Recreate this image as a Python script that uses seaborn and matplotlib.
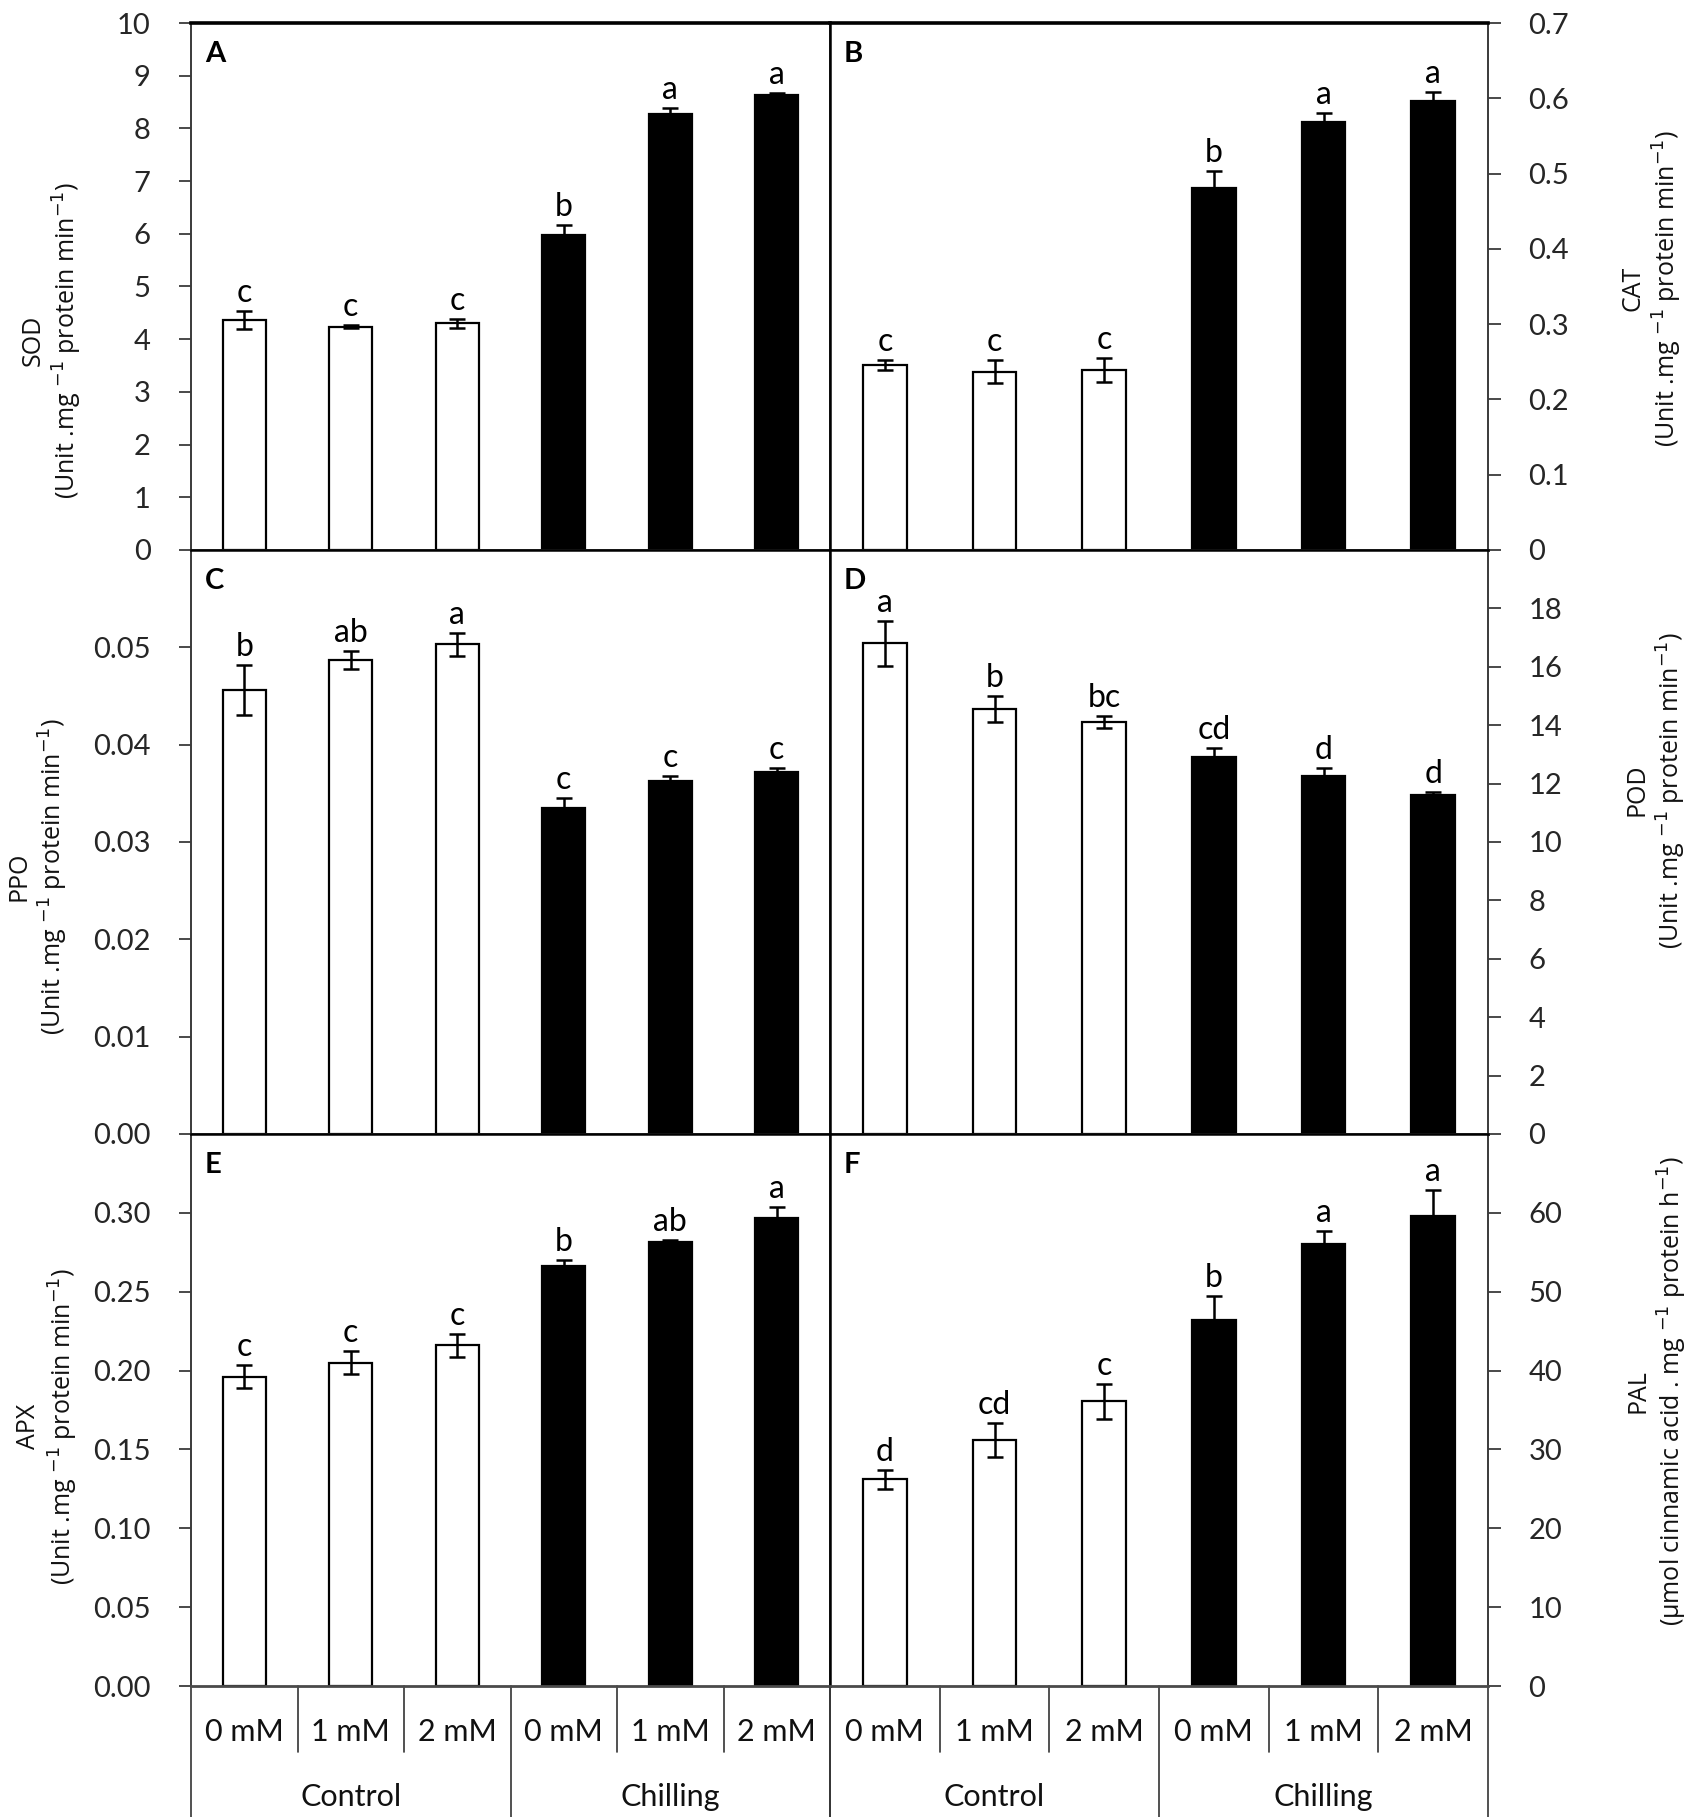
import numpy as np
import pandas as pd
import matplotlib
matplotlib.use("Agg")
import matplotlib.pyplot as plt
import seaborn as sns
from matplotlib import font_manager

# ---------------- data ----------------
groups = ["Control", "Control", "Control", "Chilling", "Chilling", "Chilling"]
doses = ["0 mM", "1 mM", "2 mM", "0 mM", "1 mM", "2 mM"]
group_names = ["Control", "Chilling"]

sod = [4.37, 4.24, 4.30, 5.98, 8.28, 8.63]
sod_err = [0.17, 0.03, 0.08, 0.18, 0.10, 0.05]
sod_let = ["c", "c", "c", "b", "a", "a"]

cat = [0.246, 0.237, 0.239, 0.481, 0.568, 0.596]
cat_err = [0.007, 0.015, 0.016, 0.022, 0.012, 0.012]
cat_let = ["c", "c", "c", "b", "a", "a"]

ppo = [0.0456, 0.0487, 0.0503, 0.0335, 0.0363, 0.0372]
ppo_err = [0.0026, 0.0009, 0.0012, 0.0010, 0.0005, 0.0004]
ppo_let = ["b", "ab", "a", "c", "c", "c"]

pod = [16.8, 14.55, 14.1, 12.9, 12.25, 11.6]
pod_err = [0.77, 0.45, 0.20, 0.33, 0.27, 0.10]
pod_let = ["a", "b", "bc", "cd", "d", "d"]

apx = [0.196, 0.205, 0.216, 0.266, 0.2815, 0.297]
apx_err = [0.0073, 0.0073, 0.0073, 0.004, 0.0012, 0.007]
apx_let = ["c", "c", "c", "b", "ab", "a"]

pal = [26.2, 31.2, 36.1, 46.4, 56.0, 59.6]
pal_err = [1.2, 2.2, 2.2, 3.0, 1.75, 3.3]
pal_let = ["d", "cd", "c", "b", "a", "a"]

sod_ticks = [0, 1, 2, 3, 4, 5, 6, 7, 8, 9, 10]
cat_ticks = [0, 0.1, 0.2, 0.3, 0.4, 0.5, 0.6, 0.7]
ppo_ticks = [0, 0.01, 0.02, 0.03, 0.04, 0.05]
pod_ticks = [0, 2, 4, 6, 8, 10, 12, 14, 16, 18]
apx_ticks = [0, 0.05, 0.10, 0.15, 0.20, 0.25, 0.30]
pal_ticks = [0, 10, 20, 30, 40, 50, 60]

unit_lab = r"(Unit .mg $^{-1}$ protein min$^{-1}$)"
pal_lab = r"(µmol cinnamic acid . mg $^{-1}$ protein h$^{-1}$)"

# ---------------- style ----------------
sns.set_style("white")
names = {f.name for f in font_manager.fontManager.ttflist}
NUMF = "Lato" if "Lato" in names else "DejaVu Sans"
LABF = "Open Sans" if "Open Sans" in names else "DejaVu Sans"
plt.rcParams["font.family"] = [NUMF, "DejaVu Sans"]
plt.rcParams["mathtext.fontset"] = "dejavusans"

W, H = 1704, 1817
fig = plt.figure(figsize=(W / 100, H / 100), dpi=100)
fig.patch.set_facecolor("white")


def px_axes(x0, y0, x1, y1):
    return fig.add_axes([x0 / W, 1 - y1 / H, (x1 - x0) / W, (y1 - y0) / H])


keys = [f"{g} {d}" for g, d in zip(groups, doses)]

TICK_COL = "#262626"
SPINE_COL = "#3a3a3a"


def panel(ax, vals, errs, lets, ylim, ticks, fmt, side, letter):
    df = pd.DataFrame({"key": keys, "value": vals, "group": groups})
    sns.barplot(data=df, x="key", y="value", hue="group", order=keys,
                hue_order=group_names,
                palette={"Control": "white", "Chilling": "black"},
                edgecolor="black", linewidth=1.6, width=0.4, dodge=False,
                saturation=1, errorbar=None, legend=False, ax=ax)
    x = np.arange(len(vals))
    ax.errorbar(x, vals, yerr=errs, fmt="none", ecolor="black",
                elinewidth=1.8, capsize=6, capthick=1.8, zorder=5)
    for i, (v, e, l) in enumerate(zip(vals, errs, lets)):
        ax.annotate(l, xy=(i, v + e), xytext=(0, 3), textcoords="offset pixels",
                    ha="center", va="bottom", fontsize=23, family=NUMF,
                    color="black")
    ax.set_xlim(-0.5, len(vals) - 0.5)
    ax.set_ylim(*ylim)
    ax.set_xticks([])
    ax.set_xlabel("")
    ax.set_ylabel("")
    ax.set_yticks(ticks)
    ax.set_yticklabels([fmt(t) for t in ticks])
    if side == "right":
        ax.yaxis.tick_right()
    ax.tick_params(axis="y", which="major", direction="out", length=9,
                   width=1.3, color=SPINE_COL, labelsize=21, pad=20,
                   labelcolor=TICK_COL, left=(side == "left"),
                   right=(side == "right"), labelleft=(side == "left"),
                   labelright=(side == "right"))
    for s in ax.spines.values():
        s.set_visible(True)
        s.set_color("black")
        s.set_linewidth(1.8)
    ax.spines["bottom"].set_color("#4a4a4a")
    ax.spines["bottom"].set_linewidth(2.0)
    ax.spines[side].set_color(SPINE_COL)
    ax.spines[side].set_linewidth(1.4)
    ax.annotate(letter, xy=(0, 1), xycoords="axes fraction",
                xytext=(14, -31), textcoords="offset pixels",
                ha="left", va="center", fontsize=21, fontweight="bold",
                family=NUMF, color="black")
    ax.set_facecolor("white")


def cat_axis(ax):
    tr = ax.get_xaxis_transform()
    h = ax.get_window_extent().height
    short = -66 / h
    full = -131 / h
    for b in [0.5, 1.5, 3.5, 4.5]:
        ax.plot([b, b], [0, short], transform=tr, color="#333333", lw=1.2,
                clip_on=False)
    for b in [-0.5, 2.5, 5.5]:
        ax.plot([b, b], [0, full], transform=tr, color="#333333", lw=1.2,
                clip_on=False)
    for i, d in enumerate(doses):
        ax.text(i, -46 / h, d, transform=tr, ha="center", va="center",
                fontsize=22, family=NUMF, color="#111111")
    for gi, g in enumerate(group_names):
        ax.text(3 * gi + 1, -111 / h, g, transform=tr, ha="center",
                va="center", fontsize=22, family=NUMF, color="#111111")


def fmt_int(t):
    return f"{t:g}"


def fmt2(t):
    return f"{t:.2f}"


def fmt1(t):
    return "0" if t == 0 else f"{t:.1f}"


LX0, MX, RX1 = 191, 830, 1488
Y0, Y1, Y2, Y3 = 23, 550, 1134, 1686

axA = px_axes(LX0, Y0, MX, Y1)
axB = px_axes(MX, Y0, RX1, Y1)
axC = px_axes(LX0, Y1, MX, Y2)
axD = px_axes(MX, Y1, RX1, Y2)
axE = px_axes(LX0, Y2, MX, Y3)
axF = px_axes(MX, Y2, RX1, Y3)

panel(axA, sod, sod_err, sod_let, (0, 10), sod_ticks, fmt_int, "left", "A")
panel(axB, cat, cat_err, cat_let, (0, 0.7), cat_ticks, fmt1, "right", "B")
panel(axC, ppo, ppo_err, ppo_let, (0, 0.06), ppo_ticks, fmt2, "left", "C")
panel(axD, pod, pod_err, pod_let, (0, 20), pod_ticks, fmt_int, "right", "D")
panel(axE, apx, apx_err, apx_let, (0, 0.35), apx_ticks, fmt2, "left", "E")
panel(axF, pal, pal_err, pal_let, (0, 70), pal_ticks, fmt_int, "right", "F")

for ax in (axA, axB):
    ax.spines["top"].set_linewidth(2.6)

cat_axis(axE)
cat_axis(axF)


def ylab(x, y, t1, t2):
    fig.text(x / W, 1 - y / H, t1 + "\n" + t2, rotation=90, ha="center",
             va="center", multialignment="center", fontsize=18,
             family=[LABF, "DejaVu Sans"], color="#111111", linespacing=1.2)


ylab(52, 340, "SOD", unit_lab)
ylab(1652, 288, "CAT", unit_lab)
ylab(38, 876, "PPO", unit_lab)
ylab(1656, 790, "POD", unit_lab)
ylab(48, 1426, "APX", unit_lab)
ylab(1657, 1391, "PAL", pal_lab)

fig.savefig("out.png", dpi=100, facecolor="white")
